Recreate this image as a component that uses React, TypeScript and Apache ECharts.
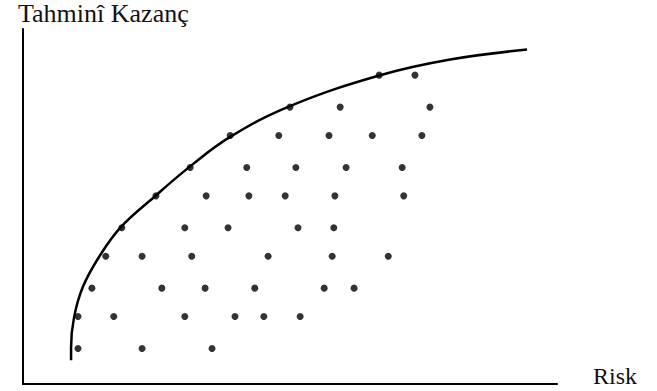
import React, { useEffect, useRef } from "react";
import * as echarts from "echarts";

// Portfolios: risk (x) and expected return (y) on a 0–100 scale
const portfolioRisk = [
  66.7, 73.4,
  50.0, 59.4, 76.2,
  38.8, 47.9, 57.3, 65.4, 74.7,
  31.3, 41.9, 51.1, 60.5, 71.0,
  24.9, 34.3, 42.3, 49.1, 58.4, 71.3,
  18.5, 30.3, 38.4, 51.5, 58.2,
  15.5, 22.3, 31.6, 45.9, 57.9, 68.4,
  12.9, 26.0, 34.1, 43.4, 56.4, 62.0,
  10.3, 17.0, 30.3, 39.7, 45.1, 51.9,
  10.3, 22.3, 35.4,
];
const portfolioReturn = [
  87, 87,
  78, 78, 78,
  70, 70, 70, 70, 70,
  61, 61, 61, 61, 61,
  53, 53, 53, 53, 53, 53,
  44, 44, 44, 44, 44,
  36, 36, 36, 36, 36, 36,
  27, 27, 27, 27, 27, 27,
  19, 19, 19, 19, 19, 19,
  10, 10, 10,
];

// Efficient frontier
const frontierRisk = [9.0, 9.0, 9.55, 11.2, 14.2, 18.2, 24.5, 31.3, 38.8, 50.0, 66.7, 80.0, 94.4];
const frontierReturn = [6.7, 10.3, 18.7, 27.3, 35.7, 44.0, 52.6, 61.3, 69.6, 78.3, 86.9, 91.4, 94.2];

const xAxisName = "Risk";
const yAxisName = "Tahminî Kazanç";

const FONT = '"Liberation Serif", "Times New Roman", serif';

export default function App() {
  const ref = useRef<HTMLDivElement>(null);

  useEffect(() => {
    if (!ref.current) return;
    const chart = echarts.init(ref.current, undefined, { renderer: "svg" });
    const axisLine = { show: true, lineStyle: { color: "#000", width: 2 } };
    chart.setOption({
      animation: false,
      backgroundColor: "#fff",
      grid: { left: 23, right: 100, top: 25, bottom: 7 },
      xAxis: {
        type: "value",
        min: 0,
        max: 100,
        name: xAxisName,
        nameLocation: "end",
        nameGap: 36,
        nameTextStyle: {
          fontFamily: FONT,
          fontSize: 24,
          color: "#111",
          align: "left",
          verticalAlign: "bottom",
          padding: [0, 0, -4, 0],
        },
        axisLine,
        axisTick: { show: false },
        axisLabel: { show: false },
        splitLine: { show: false },
      },
      yAxis: {
        type: "value",
        min: 0,
        max: 100,
        name: yAxisName,
        nameLocation: "end",
        nameGap: 0,
        nameTextStyle: {
          fontFamily: FONT,
          fontSize: 26,
          color: "#111",
          align: "left",
          verticalAlign: "bottom",
          padding: [0, 0, 3, -5],
        },
        axisLine,
        axisTick: { show: false },
        axisLabel: { show: false },
        splitLine: { show: false },
      },
      series: [
        {
          type: "line",
          data: frontierRisk.map((x, i) => [x, frontierReturn[i]]),
          smooth: 0.4,
          showSymbol: false,
          lineStyle: { color: "#000", width: 2.5 },
          z: 2,
        },
        {
          type: "scatter",
          data: portfolioRisk.map((x, i) => [x, portfolioReturn[i]]),
          symbol: "circle",
          symbolSize: 7,
          itemStyle: { color: "#000" },
          z: 3,
        },
      ],
    });
    return () => chart.dispose();
  }, []);

  return <div ref={ref} style={{ width: 657, height: 391, position: "absolute", left: 0, top: 0 }} />;
}
